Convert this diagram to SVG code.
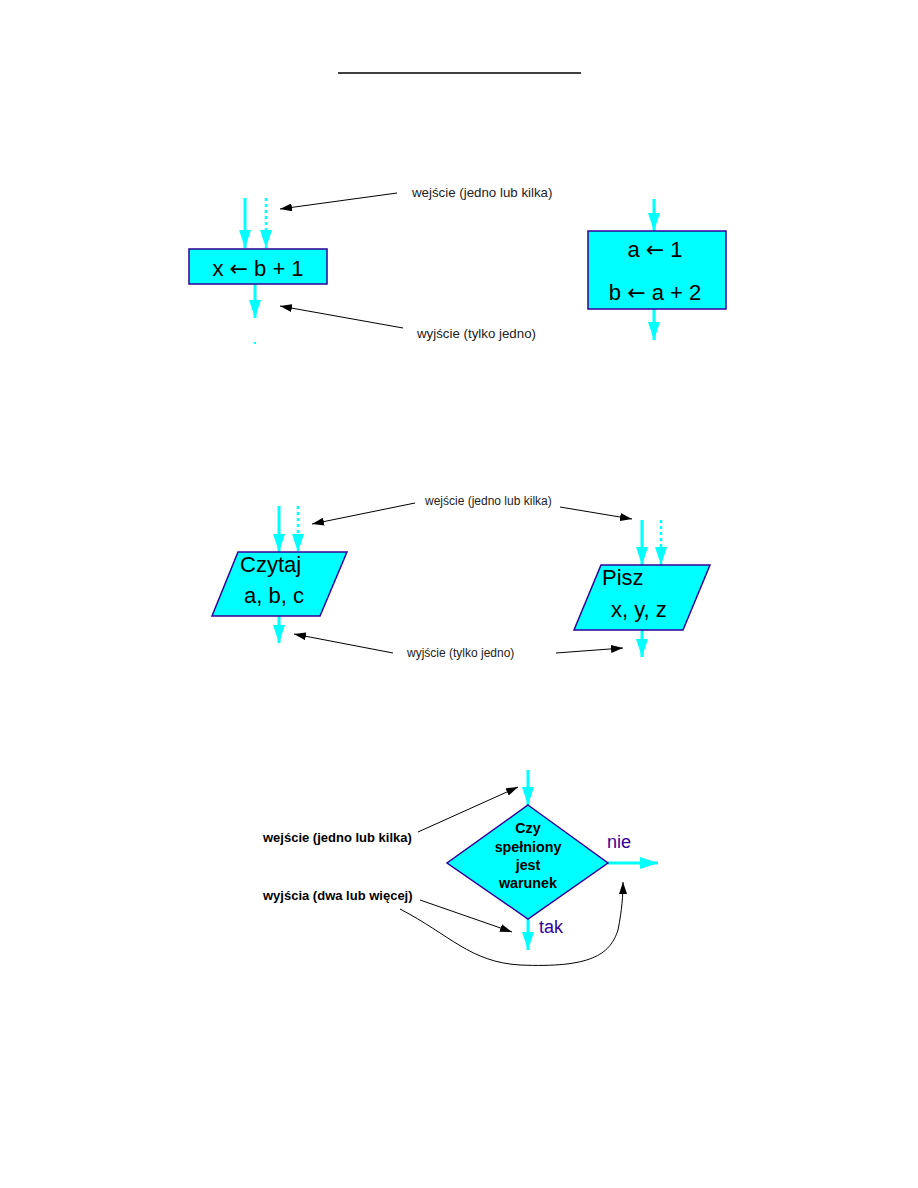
<svg xmlns="http://www.w3.org/2000/svg" width="918" height="1188" viewBox="0 0 918 1188">
<style>
.flow{stroke:#00FFFF;stroke-width:3;fill:none}
.dot{stroke:#00FFFF;stroke-width:2.5;fill:none;stroke-dasharray:3 3}
.node{fill:#00FFFF;stroke:#330099;stroke-width:1.5}
.note{stroke:#000;stroke-width:1;fill:none}
.big{font-family:"Liberation Sans",Arial,sans-serif;font-size:22px;fill:#000}
.arr{font-family:"DejaVu Sans",sans-serif}
.lbl{font-family:"Liberation Sans",Arial,sans-serif;font-size:13.3px;fill:#222}
.lbl2{font-family:"Liberation Sans",Arial,sans-serif;font-size:12px;fill:#222}
.bold{font-family:"Liberation Sans",Arial,sans-serif;font-size:13px;font-weight:bold;fill:#000}
.dtext{font-family:"Liberation Sans",Arial,sans-serif;font-size:14.3px;font-weight:bold;fill:#000;text-anchor:middle}
.pl{font-family:"Liberation Sans",Arial,sans-serif;font-size:18px;fill:#330099}
</style>
<defs>
<marker id="ca" viewBox="0 0 18 12" refX="18" refY="6" markerWidth="18" markerHeight="12" markerUnits="userSpaceOnUse" orient="auto">
<path d="M0,0 L18,6 L0,12 Z" fill="#00FFFF"/>
</marker>
<marker id="ba" viewBox="0 0 12 8" refX="12" refY="4" markerWidth="12" markerHeight="8" markerUnits="userSpaceOnUse" orient="auto">
<path d="M0,0 L12,4 L0,8 Z" fill="#000"/>
</marker>
</defs>
<rect width="918" height="1188" fill="#fff"/>
<line x1="338" y1="73" x2="581" y2="73" stroke="#000" stroke-width="1.5"/>

<g id="connectors">
<line class="flow" x1="245" y1="198" x2="245" y2="248" marker-end="url(#ca)"/>
<line class="dot" x1="266" y1="198" x2="266" y2="248" marker-end="url(#ca)"/>
<line class="flow" x1="255" y1="284" x2="255" y2="318" marker-end="url(#ca)"/>
<line x1="255" y1="342" x2="255" y2="344" stroke="#00FFFF" stroke-width="2"/>
<line class="note" x1="397" y1="193" x2="280" y2="209" marker-end="url(#ba)"/>
<line class="note" x1="403" y1="328" x2="280" y2="306" marker-end="url(#ba)"/>
<line class="flow" x1="654" y1="199" x2="654" y2="231" marker-end="url(#ca)"/>
<line class="flow" x1="654" y1="309" x2="654" y2="340" marker-end="url(#ca)"/>
<line class="flow" x1="279" y1="506" x2="279" y2="552" marker-end="url(#ca)"/>
<line class="dot" x1="298" y1="506" x2="298" y2="552" marker-end="url(#ca)"/>
<line class="flow" x1="279" y1="616" x2="279" y2="643" marker-end="url(#ca)"/>
<line class="flow" x1="642" y1="520" x2="642" y2="565" marker-end="url(#ca)"/>
<line class="dot" x1="661" y1="520" x2="661" y2="565" marker-end="url(#ca)"/>
<line class="flow" x1="642" y1="630" x2="642" y2="657" marker-end="url(#ca)"/>
<line class="note" x1="415" y1="503" x2="312" y2="524" marker-end="url(#ba)"/>
<line class="note" x1="560" y1="507" x2="632" y2="519" marker-end="url(#ba)"/>
<line class="note" x1="393" y1="653" x2="294" y2="634" marker-end="url(#ba)"/>
<line class="note" x1="556" y1="653" x2="623" y2="648" marker-end="url(#ba)"/>
<line class="flow" x1="528" y1="770" x2="528" y2="805" marker-end="url(#ca)"/>
<line class="flow" x1="608" y1="863" x2="658" y2="863" marker-end="url(#ca)"/>
<line class="flow" x1="528" y1="919" x2="528" y2="950" marker-end="url(#ca)"/>
<line class="note" x1="418" y1="832" x2="518" y2="787" marker-end="url(#ba)"/>
<line class="note" x1="420" y1="900" x2="512" y2="932" marker-end="url(#ba)"/>
<path class="note" d="M400,909 C450,935 470,962 520,965 C590,968 610,955 618,930 C622,910 623,895 623,882" marker-end="url(#ba)"/>
</g>

<g id="assign1">
<rect class="node" x="189" y="249" width="138" height="35"/>
<text class="big" x="258" y="276" text-anchor="middle">x <tspan class="arr">←</tspan> b + 1</text>
</g>
<g id="assign2">
<rect class="node" x="588" y="231" width="138" height="78"/>
<text class="big" x="655" y="257" text-anchor="middle">a <tspan class="arr">←</tspan> 1</text>
<text class="big" x="655" y="300" text-anchor="middle">b <tspan class="arr">←</tspan> a + 2</text>
</g>
<g id="read">
<polygon class="node" points="238,552 347,552 320,616 212,616"/>
<text class="big" x="240" y="572">Czytaj</text>
<text class="big" x="244" y="603">a, b, c</text>
</g>
<g id="write">
<polygon class="node" points="601,565 710,565 683,630 574,630"/>
<text class="big" x="602" y="585">Pisz</text>
<text class="big" x="611" y="617">x, y, z</text>
</g>
<g id="decision">
<polygon class="node" points="528,805 608,863 528,919 447,863"/>
<text class="dtext" x="528" y="833">Czy</text>
<text class="dtext" x="528" y="852">spełniony</text>
<text class="dtext" x="528" y="870">jest</text>
<text class="dtext" x="528" y="888">warunek</text>
</g>

<g id="labels">
<text class="lbl" x="412" y="197">wejście (jedno lub kilka)</text>
<text class="lbl" x="417" y="338">wyjście (tylko jedno)</text>
<text class="lbl2" x="425" y="505">wejście (jedno lub kilka)</text>
<text class="lbl2" x="407" y="657">wyjście (tylko jedno)</text>
<text class="bold" x="263" y="842">wejście (jedno lub kilka)</text>
<text class="bold" x="263" y="900">wyjścia (dwa lub więcej)</text>
<text class="pl" x="607" y="848">nie</text>
<text class="pl" x="539" y="933">tak</text>
</g>
</svg>
